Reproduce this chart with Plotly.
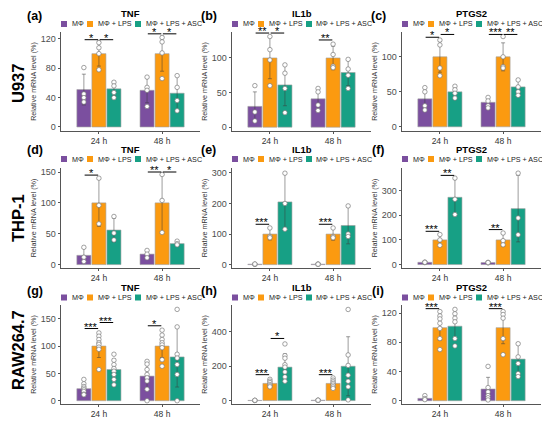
import plotly.graph_objects as go

groups = ["MΦ", "MΦ + LPS", "MΦ + LPS + ASC"]
group_colors = ["#7b4f9f", "#fb9a10", "#17a085"]
times = ["24 h", "48 h"]
cell_lines = ["U937", "THP-1", "RAW264.7"]
genes = ["TNF", "IL1b", "PTGS2"]
panel_tags = ["(a)", "(b)", "(c)", "(d)", "(e)", "(f)", "(g)", "(h)", "(i)"]

# values per group [MΦ, MΦ+LPS, MΦ+LPS+ASC], each [24 h, 48 h]
# significance: (time index, group from, group to, height, label)

# (a) U937 TNF
a_mean = [[51, 50], [100, 100], [52, 46]]
a_sd = [[21, 17], [17, 24], [10, 23]]
a_pts = [[[81, 45, 40, 34], [68, 54, 50, 28]],
         [[115, 108, 100, 78], [122, 116, 101, 66]],
         [[61, 56, 47, 40], [70, 54, 36, 22]]]
a_sig = [(0, 0, 1, 119, "*"), (0, 1, 2, 119, "*"), (1, 0, 1, 127, "*"), (1, 1, 2, 127, "*")]
a_ticks = [0, 40, 80, 120]

# (b) U937 IL1b
b_mean = [[30, 41], [100, 100], [61, 79]]
b_sd = [[21, 15], [30, 17], [30, 19]]
b_pts = [[[60, 22, 9], [56, 51, 32, 24]],
         [[131, 112, 97, 60], [120, 105, 88, 86]],
         [[90, 78, 56, 21], [98, 84, 75, 56]]]
b_sig = [(0, 0, 1, 136, "**"), (0, 1, 2, 136, "*"), (1, 0, 1, 126, "**")]
b_ticks = [0, 50, 100]

# (c) U937 PTGS2
c_mean = [[40, 35], [100, 100], [50, 57]]
c_sd = [[16, 7], [22, 20], [9, 11]]
c_pts = [[[56, 50, 30, 24], [42, 37, 30, 27]],
         [[124, 117, 84, 73], [129, 100, 86, 84]],
         [[58, 53, 48, 41], [67, 57, 50, 45]]]
c_sig = [(0, 0, 1, 128, "*"), (0, 1, 2, 132, "*"), (1, 0, 1, 132, "***"), (1, 1, 2, 132, "**")]
c_ticks = [0, 50, 100]

# (d) THP-1 TNF
d_mean = [[15, 17], [100, 100], [56, 34]]
d_sd = [[12, 6], [38, 47], [19, 4]]
d_pts = [[[28, 12, 5], [23, 17, 11]],
         [[140, 96, 66], [146, 104, 52]],
         [[78, 51, 40], [38, 34, 32]]]
d_sig = [(0, 0, 1, 145, "*"), (1, 0, 1, 150, "**"), (1, 1, 2, 150, "*")]
d_ticks = [0, 50, 100, 150]

# (e) THP-1 IL1b
e_mean = [[1.5, 1.5], [100, 100], [205, 128]]
e_sd = [[1, 1], [19, 20], [92, 60]]
e_pts = [[[1, 1.5, 2], [1, 2, 1.5]],
         [[120, 92, 88], [120, 92, 88]],
         [[299, 200, 116], [192, 100, 92]]]
e_sig = [(0, 0, 1, 132, "***"), (1, 0, 1, 132, "***")]
e_ticks = [0, 100, 200, 300]

# (f) THP-1 PTGS2
f_mean = [[9, 8], [100, 100], [273, 227]]
f_sd = [[2, 2], [22, 25], [75, 135]]
f_pts = [[[10, 8, 9], [9, 7, 8]],
         [[122, 100, 78], [128, 97, 80]],
         [[351, 265, 203], [371, 189, 121]]]
f_sig = [(0, 0, 1, 135, "***"), (0, 1, 2, 362, "**"), (1, 0, 1, 142, "**")]
f_ticks = [0, 100, 200, 300]

# (g) RAW264.7 TNF
g_mean = [[22, 45], [100, 100], [57, 80]]
g_sd = [[10, 22], [21, 21], [19, 55]]
g_pts = [[[39, 31, 26, 23, 20, 17, 12, 11], [72, 67, 57, 48, 42, 36, 21, 0]],
         [[124, 118, 112, 106, 103, 98, 94, 57], [129, 120, 112, 106, 102, 97, 75, 63]],
         [[85, 74, 66, 59, 54, 48, 39, 29], [167, 135, 85, 78, 66, 48, 0]]]
g_sig = [(0, 0, 1, 132, "***"), (0, 1, 2, 143, "***"), (1, 0, 1, 137, "*")]
g_ticks = [0, 50, 100, 150]

# (h) RAW264.7 IL1b
h_mean = [[1, 2], [100, 100], [195, 200]]
h_sd = [[1, 1], [22, 25], [78, 172]]
h_pts = [[[1, 0.5, 1.5], [2, 1, 2.5]],
         [[124, 113, 105, 94, 86, 80], [132, 119, 109, 100, 90, 80, 71]],
         [[330, 262, 247, 209, 195, 167, 138, 113], [531, 266, 205, 148, 113, 80, 4]]]
h_sig = [(0, 0, 1, 151, "***"), (0, 1, 2, 362, "*"), (1, 0, 1, 151, "***")]
h_ticks = [0, 200, 400]

# (i) RAW264.7 PTGS2
i_mean = [[3.2, 16], [100, 100], [102, 57]]
i_sd = [[2.5, 16], [17, 22], [17, 22]]
i_pts = [[[7, 3, 1.5], [47, 18, 12, 7, 4, 1]],
         [[122, 116, 112, 106, 99, 85, 70], [122, 118, 113, 85, 63]],
         [[125, 119, 113, 108, 85, 75], [78, 60, 51, 37, 33]]]
i_sig = [(0, 0, 1, 126, "***"), (1, 0, 1, 126, "***")]
i_ticks = [0, 40, 80, 120]

panels = [
    (a_mean, a_sd, a_pts, a_sig, a_ticks),
    (b_mean, b_sd, b_pts, b_sig, b_ticks),
    (c_mean, c_sd, c_pts, c_sig, c_ticks),
    (d_mean, d_sd, d_pts, d_sig, d_ticks),
    (e_mean, e_sd, e_pts, e_sig, e_ticks),
    (f_mean, f_sd, f_pts, f_sig, f_ticks),
    (g_mean, g_sd, g_pts, g_sig, g_ticks),
    (h_mean, h_sd, h_pts, h_sig, h_ticks),
    (i_mean, i_sd, i_pts, i_sig, i_ticks),
]

# layout in window pixels; the page body adds an 8 px margin, so the
# figure is sized to the rest of the window and positions are shifted
OFF = 8
W, H = 550 - OFF, 421 - OFF
FONT = "Liberation Sans, Arial, sans-serif"
col_px = [(61, 200), (232, 371), (402, 541)]
row_px = [(32, 131), (168, 268), (305, 404)]
y_ranges = [[-5.5, 129.5], [-5.5, 137.5], [-6, 135.5],
            [-5.5, 156.5], [-11, 316], [-14, 392],
            [-6, 175], [-20, 557], [-4.5, 131]]
title_y = [13, 149, 287]
legend_y = [24, 159, 297.5]
tag_x = [34.5, 209, 378]
tag_y = [16, 150, 291]
row_label_y = [84, 218, 350]
offsets = [-0.238, 0, 0.238]
bar_w = 0.222
leg_sq = [0, 26, 74]
leg_txt = [8.5, 34.5, 82.5]


def px(x):
    return (x - OFF) / W


def py(y):
    return 1 - (y - OFF) / H


fig = go.Figure()
ann = []
shapes = []

for k, (mean, sd, pts, sig, ticks) in enumerate(panels):
    r, c = divmod(k, 3)
    n = "" if k == 0 else str(k + 1)
    xa, ya = "x" + n, "y" + n

    for g in range(3):
        xs = [t + 1 + offsets[g] for t in range(2)]
        fig.add_trace(go.Bar(
            x=xs, y=mean[g], width=bar_w, xaxis=xa, yaxis=ya, showlegend=False,
            marker=dict(color=group_colors[g], line=dict(color="#a0a0a0", width=0.6)),
            error_y=dict(type="data", array=sd[g], color="rgba(60,60,60,0.5)",
                         thickness=1, width=2),
        ))
    for g in range(3):
        xs, ys = [], []
        for t in range(2):
            xs += [t + 1 + offsets[g]] * len(pts[g][t])
            ys += pts[g][t]
        fig.add_trace(go.Scatter(
            x=xs, y=ys, mode="markers", xaxis=xa, yaxis=ya, showlegend=False,
            cliponaxis=False,
            marker=dict(size=4.5, color="white", line=dict(color="#7a7a7a", width=0.7)),
        ))

    for t, g1, g2, yv, txt in sig:
        x1 = t + 1 + offsets[g1] + 0.012
        x2 = t + 1 + offsets[g2] - 0.012
        shapes.append(dict(type="line", xref=xa, yref=ya, x0=x1, x1=x2, y0=yv, y1=yv,
                           line=dict(color="black", width=1)))
        ann.append(dict(xref=xa, yref=ya, x=(x1 + x2) / 2, y=yv, text=txt,
                        showarrow=False, xanchor="center", yanchor="bottom", yshift=-6,
                        font=dict(size=11, color="black", family=FONT)))

    c0, c1 = col_px[c]
    r0, r1 = row_px[r]
    fig.update_layout(**{
        "xaxis" + n: dict(
            domain=[px(c0), px(c1)], anchor=ya, range=[0.4, 2.6], automargin=False,
            tickvals=[1, 2], ticktext=times, showline=True, linecolor="#555",
            linewidth=1, ticks="outside", ticklen=2, tickcolor="#555",
            tickfont=dict(size=8.5, color="#333", family=FONT),
            showgrid=False, zeroline=False),
        "yaxis" + n: dict(
            domain=[py(r1), py(r0)], anchor=xa, range=y_ranges[k], automargin=False,
            tickvals=ticks, showline=True, linecolor="#555", linewidth=1,
            ticks="outside", ticklen=2.5, tickcolor="#555",
            tickfont=dict(size=9, color="#4d4d4d", family=FONT),
            showgrid=False, zeroline=False,
            title=dict(text="Relative mRNA level (%)", standoff=3,
                       font=dict(size=7.2, color="#333", family=FONT))),
    })

    # panel tag and gene title
    ann.append(dict(xref="paper", yref="paper", x=px(tag_x[c]), y=py(tag_y[r]),
                    xanchor="center", yanchor="middle",
                    text=panel_tags[k], showarrow=False,
                    font=dict(size=12.5, color="black", family=FONT, weight="bold")))
    ann.append(dict(xref="paper", yref="paper", x=px((c0 + c1) / 2), y=py(title_y[r]),
                    xanchor="center", yanchor="middle",
                    text=genes[c], showarrow=False,
                    font=dict(size=9.5, color="black", family=FONT, weight="bold")))

    # legend row above each panel
    ly = legend_y[r]
    for g in range(3):
        sx = c0 + leg_sq[g]
        shapes.append(dict(type="rect", xref="paper", yref="paper",
                           x0=px(sx), x1=px(sx + 6), y0=py(ly + 3), y1=py(ly - 3),
                           fillcolor=group_colors[g], line=dict(width=0)))
        ann.append(dict(xref="paper", yref="paper", x=px(c0 + leg_txt[g]), y=py(ly),
                        xanchor="left", yanchor="middle", text=groups[g], showarrow=False,
                        font=dict(size=7.2, color="#222", family=FONT)))

for r in range(3):
    ann.append(dict(xref="paper", yref="paper", x=px(18), y=py(row_label_y[r]),
                    xanchor="center", yanchor="middle",
                    text=cell_lines[r], textangle=-90, showarrow=False,
                    font=dict(size=16.5, color="black", family=FONT, weight="bold")))

fig.update_layout(
    width=W, height=H,
    margin=dict(l=0, r=0, t=0, b=0),
    paper_bgcolor="white", plot_bgcolor="white",
    barmode="overlay", showlegend=False,
    annotations=ann, shapes=shapes,
    font=dict(family=FONT),
)

fig.write_html("out.html")
